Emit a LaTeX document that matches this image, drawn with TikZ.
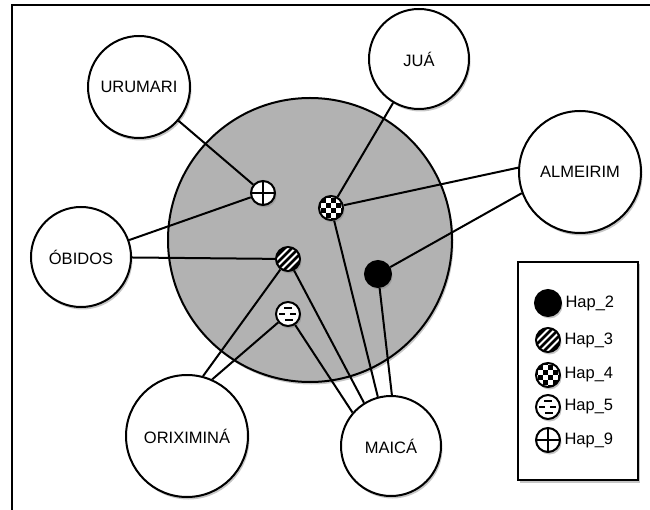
\documentclass[tikz,border=0pt]{standalone}
\usepackage{fontspec}
\setmainfont{Liberation Sans}
\usetikzlibrary{shadows}
\tikzset{
  shadowed/.style={drop shadow={shadow xshift=1.5pt, shadow yshift=-2.5pt, opacity=0.45}},
  pop/.style={circle, draw, line width=2pt, fill=white, inner sep=0pt, shadowed,
    font=\fontsize{16.5}{18}\selectfont},
  hap/.style={circle, draw, line width=2pt, fill=white, inner sep=0pt,
    minimum size=24pt, shadowed},
  hap2/.style={hap, fill=black, minimum size=26pt},
  hap3/.style={hap, path picture={
    \foreach \s in {-28,-21,...,28}
      \draw[line width=2.5pt] ([shift={(\s-16,16)}]path picture bounding box.center)
        -- ([shift={(\s+16,-16)}]path picture bounding box.center);}},
  hap4/.style={hap, path picture={
    \foreach \i in {-15,-5,...,15} \foreach \j in {-15,-5,...,15} {
      \fill[black] ([shift={(\i,\j)}]path picture bounding box.center) rectangle ++(5,5);
      \fill[black] ([shift={(\i+5,\j+5)}]path picture bounding box.center) rectangle ++(5,5);}}},
  hap5/.style={hap, path picture={
    \draw[line width=1.6pt]
      ([shift={(-4,-6)}]path picture bounding box.center) -- ++(8,0)
      ([shift={(-9,0)}]path picture bounding box.center) -- ++(6,0)
      ([shift={(2,0)}]path picture bounding box.center) -- ++(6,0)
      ([shift={(-3,6)}]path picture bounding box.center) -- ++(8,0);}},
  hap9/.style={hap, path picture={
    \draw[line width=2pt] (path picture bounding box.north) -- (path picture bounding box.south)
      (path picture bounding box.west) -- (path picture bounding box.east);}},
  link/.style={line width=2pt},
  key/.style={right, font=\fontsize{16.5}{18}\selectfont}
}
\begin{document}
\begin{tikzpicture}[x=1pt,y=-1pt]
\useasboundingbox (0,0) rectangle (650,510);
\draw[line width=2pt] (12,510) -- (12,5) -- (650,5);
\node[circle, draw, line width=2pt, fill=black!30, minimum size=284pt, shadowed] (G) at (310,240) {};
\node[pop, minimum size=102pt] (P0) at (139,87) {URUMARI};
\node[pop, minimum size=100pt] (P1) at (419,59) {JUÁ};
\node[pop, minimum size=100pt] (P2) at (81,257) {ÓBIDOS};
\node[pop, minimum size=122pt] (P3) at (580,172) {ALMEIRIM};
\node[pop, minimum size=122pt] (P4) at (187,436) {ORIXIMINÁ};
\node[pop, minimum size=100pt] (P5) at (391,446) {MAICÁ};
\node[hap9] (H9) at (263,193) {};
\node[hap4] (H4) at (331,208) {};
\node[hap3] (H3) at (288,259) {};
\node[hap2] (H2) at (378,274) {};
\node[hap5] (H5) at (288,314) {};
\draw[link] (H9) -- (P0);
\draw[link] (H9) -- (P2);
\draw[link] (H3) -- (P2);
\draw[link] (H4) -- (P1);
\draw[link] (H4) -- (P3.176);
\draw[link] (H2) -- (P3.200);
\draw[link] (H3) -- (P4.75);
\draw[link] (H5) -- (P4.66);
\draw[link] (H5) -- (P5.139);
\draw[link] (H3) -- (P5.122);
\draw[link] (H4) -- (P5.105);
\draw[link] (H2) -- (P5.89);
\node[draw, line width=2pt, fill=white, minimum width=120pt, minimum height=218pt, shadowed] (K) at (578,371) {};
\node[hap2] (L2) at (548,303) {};
\node[hap3] (L3) at (548,340) {};
\node[hap4] (L4) at (548,375) {};
\node[hap5] (L5) at (548,407) {};
\node[hap9] (L9) at (548,440) {};
\node[key] (T2) at (L2.east) {Hap\_2};
\node[key] (T3) at (L3.east) {Hap\_3};
\node[key] (T4) at (L4.east) {Hap\_4};
\node[key] (T5) at (L5.east) {Hap\_5};
\node[key] (T9) at (L9.east) {Hap\_9};
\end{tikzpicture}
\end{document}
